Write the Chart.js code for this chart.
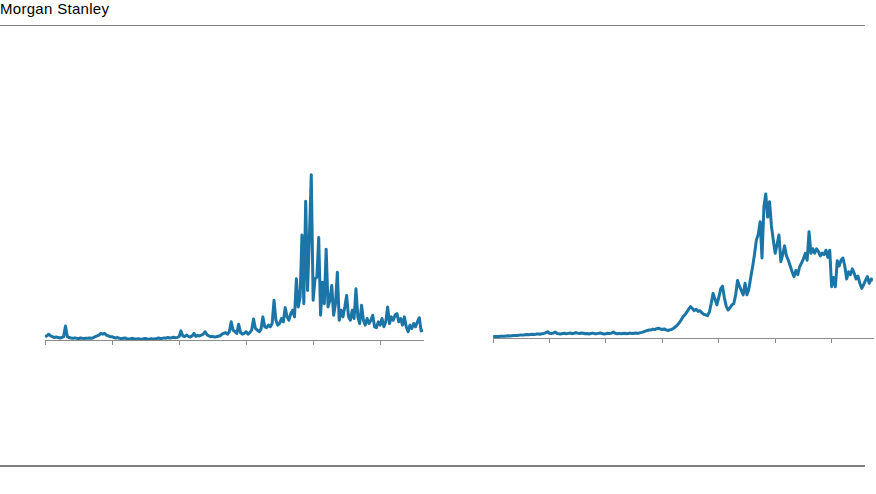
<!DOCTYPE html>
<html>
<head>
<meta charset="utf-8">
<script src="https://cdn.jsdelivr.net/npm/chart.js@4/dist/chart.umd.min.js"></script>
<style>
  html, body { margin: 0; padding: 0; background: #fff; }
  body { width: 876px; height: 494px; position: relative; overflow: hidden; }
  .brand { position: absolute; left: 0; top: 0; font: 15px "Liberation Sans", Arial, sans-serif; letter-spacing: 0.3px; color: #000; line-height: 18px; }
  .rule { position: absolute; left: 0; width: 865px; height: 1px; background: #7f7f7f; }
  .wrap { position: absolute; }
</style>
</head>
<body>
<div class="brand">Morgan Stanley</div>
<div class="rule" style="top:25px"></div>
<div class="wrap" id="leftWrap" style="left:40px; top:150px; width:390px; height:195px"><canvas id="leftChart"></canvas></div>
<div class="wrap" id="rightWrap" style="left:488px; top:148px; width:388px; height:195px"><canvas id="rightChart"></canvas></div>
<div class="rule" style="top:465px; height:1.5px"></div>
<script>
// left panel: spiky series, index scaled so peak = 100
const leftValues = [
  2, 2.5, 3.5, 2.5, 2, 1.5, 1.8, 1.5, 1.2, 1.5, 2, 8.5,
  2, 1.5, 1.2, 1, 1.3, 1, 0.8, 1.2, 1, 0.9, 1.1, 1,
  1.2, 1, 1.5, 2, 2.5, 3, 4, 3.5, 4, 3, 2.5, 2,
  2, 1.5, 1.2, 1.5, 1, 0.8, 1, 1.2, 0.8, 0.6, 0.8, 1,
  0.7, 0.5, 0.8, 0.6, 0.5, 0.7, 0.9, 0.6, 0.5, 0.8, 0.6, 0.7,
  0.9, 1.2, 0.8, 1, 1.3, 1.1, 1.5, 1.2, 1.4, 1.7, 1.3, 1.6,
  2, 5.5, 2.5, 2, 3, 2.2, 1.8, 2.5, 4, 2.2, 2.8, 2.4,
  3, 3.5, 5, 3.2, 2.5, 2, 2.2, 1.8, 2, 2.3, 2.6, 3.5,
  4, 4.5, 3.5, 5, 11, 6, 5, 4, 9.5, 4.5, 3.5, 4,
  5, 3.5, 4.5, 6, 12.7, 7, 6, 5, 6.5, 14, 8, 7.5,
  9, 8, 10, 24, 12, 9, 10, 13, 11, 19.6, 14, 12,
  16, 18, 14, 37, 20, 26, 63.6, 22, 84, 30, 63, 100,
  24, 37, 38, 62, 15, 35, 22, 55, 20, 24, 33, 15,
  22, 41, 12, 18, 14, 20, 27, 14, 12, 18, 13, 31,
  14, 10, 21, 12, 9, 13, 10, 12, 15, 8, 7.5, 11,
  9, 13, 8, 11, 20, 10, 14, 12, 15, 16, 11, 13,
  9, 14, 8, 5, 9, 7, 10, 8, 11, 13.5, 5.5, 6
];
const leftTicks = [0, 36, 72, 108, 144, 180];

// right panel: trending series, peak = 100
const rightValues = [
  0.9, 1, 1.1, 1, 1.2, 1.3, 1.2, 1.4, 1.5, 1.4, 1.6, 1.7,
  1.8, 1.7, 2, 2.1, 2, 2.3, 2.4, 2.2, 2.5, 2.6, 2.4, 2.7,
  2.8, 2.6, 3, 3.2, 3.6, 4.4, 3.3, 3.1, 3.4, 4.2, 3.2, 3,
  2.8, 3.1, 3.3, 2.9, 3.2, 3.5, 3, 3.3, 3.7, 3.4, 3.1, 3.5,
  3.3, 3, 3.2, 2.8, 3.1, 3.4, 3, 2.9, 3.2, 3.5, 3.1, 2.8,
  3, 3.3, 3.1, 3.4, 4.2, 3.3, 3, 3.2, 2.9, 3.1, 3.3, 3,
  3.2, 3.4, 3.1, 3.3, 3.5, 3.2, 3.6, 3.9, 4.3, 4.8, 5.2, 5.5,
  5.6, 6.2, 5.8, 6.5, 6.8, 6.2, 5.9, 6.3, 5.6, 5.2, 5.7, 6,
  6.8, 7.8, 9, 10.5, 12.5, 14.8, 16, 18, 20, 21.8, 20.5, 19,
  20, 18.5, 19, 17.5, 16.5, 16, 15.5, 18, 24, 31, 27, 23,
  28, 34, 36, 28, 22, 19.5, 21, 23, 24, 30, 40, 36,
  33, 30, 38, 30, 34, 42, 49.5, 58, 68, 72, 80.8, 55.6,
  91, 100, 84, 94.7, 78, 68, 58.8, 65, 71.6, 53, 58, 64,
  57, 54, 50, 46, 42.6, 47, 44, 49.5, 52, 55, 58.8, 54,
  73.9, 58.8, 62, 59, 62, 60, 57, 59, 58, 61, 56, 61,
  35.6, 42, 35.6, 53.6, 50, 54, 55.6, 50, 41, 46, 44, 48,
  45, 41, 43, 38, 34.5, 37, 40, 42.6, 38, 41, 40
];
const rightTicks = [0, 30, 60, 90, 120, 150, 180];

const lineColor = '#1b75a6';
const axisColor = '#8c8c8c';

function makeChart(id, values, tickValues, yMax, padding) {
  const points = values.map((v, i) => ({ x: i, y: v }));
  return new Chart(document.getElementById(id), {
    type: 'line',
    data: {
      datasets: [{
        data: points,
        borderColor: lineColor,
        borderWidth: 3,
        borderJoinStyle: 'round',
        pointRadius: 0,
        tension: 0,
        fill: false,
      }],
    },
    options: {
      animation: false,
      responsive: true,
      maintainAspectRatio: false,
      layout: { padding },
      plugins: { legend: { display: false }, tooltip: { enabled: false } },
      scales: {
        x: {
          type: 'linear',
          min: 0,
          max: values.length - 1,
          afterBuildTicks: (scale) => { scale.ticks = tickValues.map(v => ({ value: v })); },
          ticks: { display: false },
          grid: { drawOnChartArea: false, drawTicks: true, tickLength: 5, color: axisColor, lineWidth: 1 },
          border: { display: true, color: axisColor, width: 1 },
        },
        y: { display: false, min: 0, max: yMax },
      },
    },
  });
}

makeChart('leftChart', leftValues, leftTicks, 115, { left: 5, right: 7, top: 0, bottom: 0 });
makeChart('rightChart', rightValues, rightTicks, 132, { left: 5, right: 3, top: 0, bottom: 0 });
</script>
</body>
</html>
